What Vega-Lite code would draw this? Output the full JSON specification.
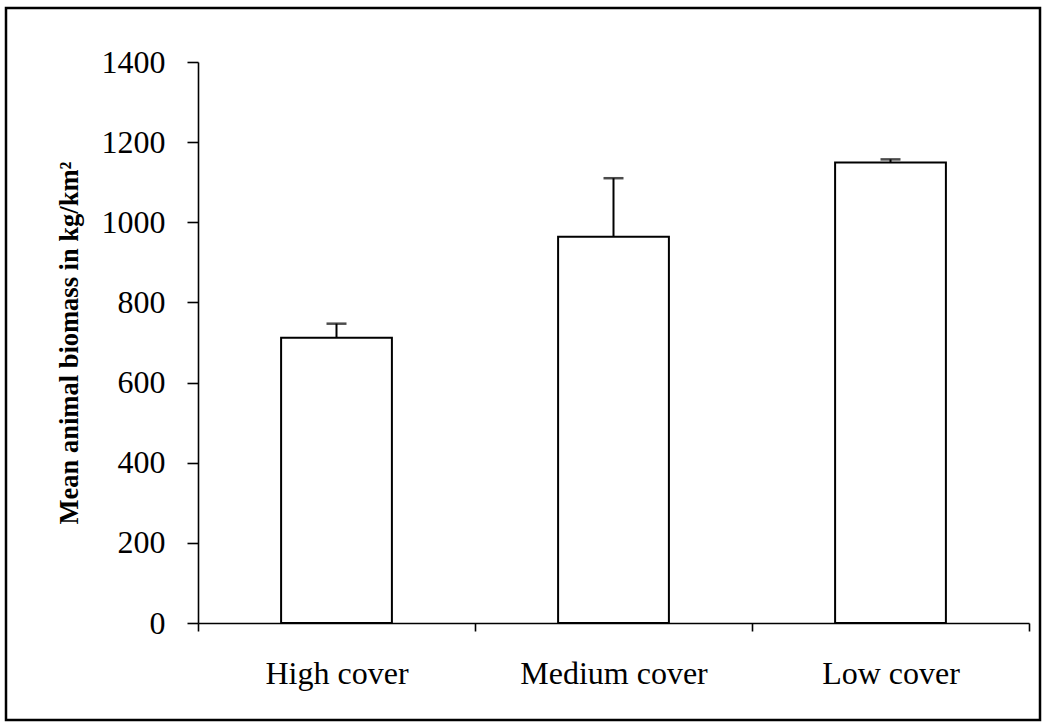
{
  "$schema": "https://vega.github.io/schema/vega-lite/v6.json",
  "width": 1034,
  "height": 712,
  "autosize": {"type": "none"},
  "padding": {"left": 6, "top": 8, "right": 4, "bottom": 8},
  "background": "white",
  "config": {
    "view": {"stroke": "black", "strokeWidth": 2.5},
    "font": "Liberation Serif",
    "axis": {"grid": false, "domainColor": "black", "tickColor": "black", "labelColor": "black", "titleColor": "black", "domainWidth": 1.6, "tickWidth": 1.6}
  },
  "data": {
    "values": [
      {"cover": "High cover", "mean": 712, "upper": 747},
      {"cover": "Medium cover", "mean": 964, "upper": 1110},
      {"cover": "Low cover", "mean": 1149, "upper": 1157}
    ]
  },
  "encoding": {
    "x": {
      "field": "cover",
      "type": "nominal",
      "sort": null,
      "scale": {"type": "band", "range": [192, 1023], "paddingInner": 0, "paddingOuter": 0},
      "axis": {
        "title": null,
        "orient": "bottom",
        "offset": -97,
        "tickBand": "extent",
        "labelAngle": 0,
        "labelLimit": 0,
        "labelFont": "Liberation Serif",
        "labelFontSize": 32,
        "labelPadding": 27,
        "tickSize": 8
      }
    }
  },
  "layer": [
    {
      "mark": {"type": "bar", "fill": "white", "stroke": "black", "strokeWidth": 2, "width": {"band": 0.4}},
      "encoding": {
        "y": {
          "field": "mean",
          "type": "quantitative",
          "scale": {"domain": [0, 1400], "range": [615, 54], "nice": false, "zero": true},
          "axis": {
            "offset": -192,
            "values": [0, 200, 400, 600, 800, 1000, 1200, 1400],
            "format": "d",
            "tickSize": 11,
            "labelPadding": 22,
            "labelFont": "Liberation Serif",
            "labelFontSize": 32,
            "title": "Mean animal biomass in kg/km²",
            "titleFont": "Liberation Serif",
            "titleFontWeight": "bold",
            "titleFontSize": 26.5,
            "titlePadding": 18
          }
        }
      }
    },
    {
      "mark": {"type": "rule", "color": "black", "strokeWidth": 2},
      "encoding": {
        "y": {"field": "mean", "type": "quantitative"},
        "y2": {"field": "upper"}
      }
    },
    {
      "mark": {"type": "tick", "color": "black", "thickness": 2.5, "size": 20, "orient": "horizontal"},
      "encoding": {
        "y": {"field": "upper", "type": "quantitative"}
      }
    }
  ]
}
